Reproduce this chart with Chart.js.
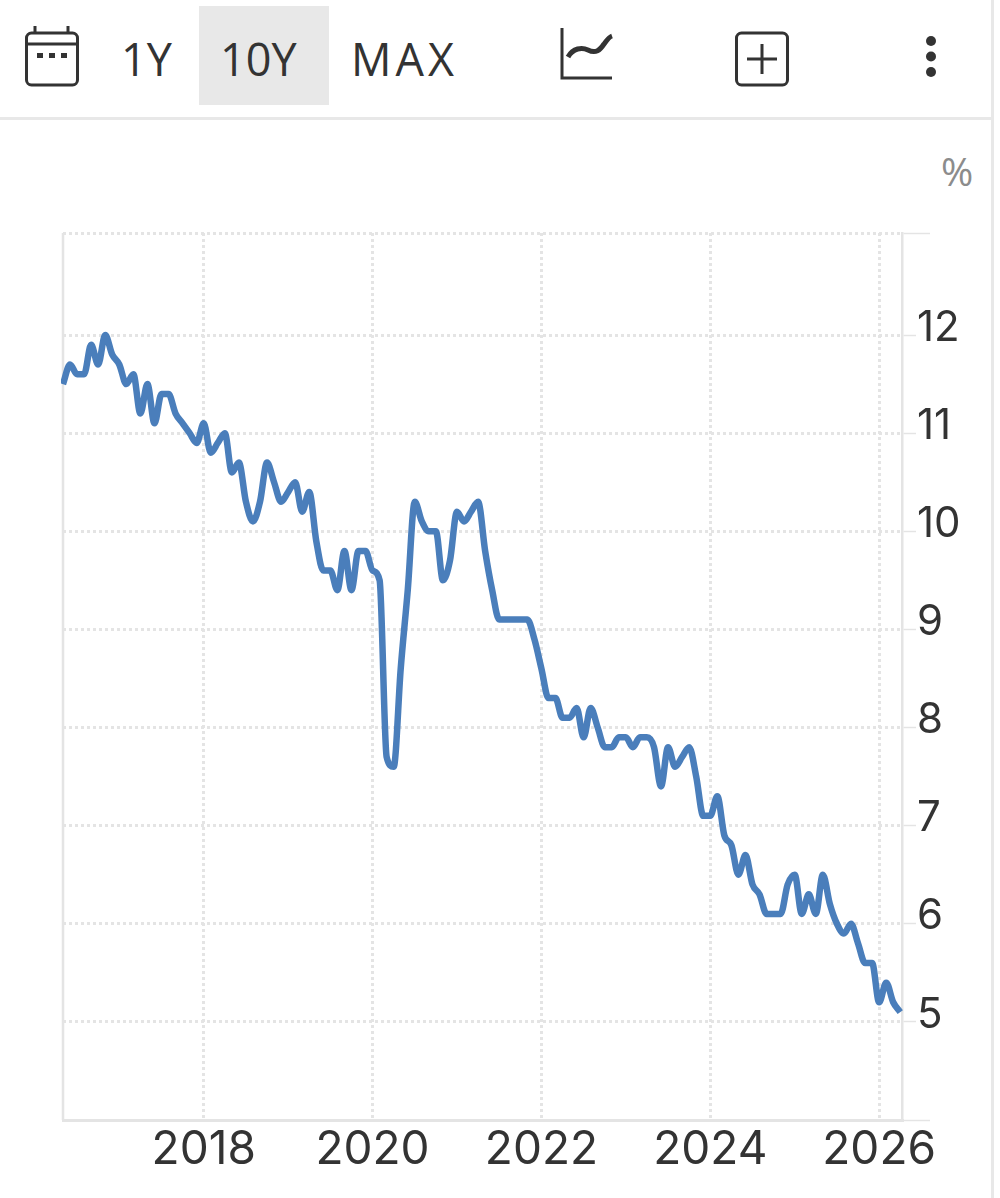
<!DOCTYPE html>
<html>
<head>
<meta charset="utf-8">
<style>
html,body{margin:0;padding:0;background:#fff;width:1000px;height:1198px;overflow:hidden}
#wrap{position:relative;width:1000px;height:1198px}
canvas{position:absolute;left:0;top:0}
.t{position:absolute;font-family:"Open Sans",sans-serif;font-weight:400;font-size:45px;color:#333;line-height:50px;top:34px;white-space:nowrap}
#sel{position:absolute;left:199px;top:6px;width:130px;height:99px;background:#e8e8e8}
#hr{position:absolute;left:0;top:117px;width:991px;height:3px;background:#e8e8e8}
#vr{position:absolute;left:991px;top:0;width:3px;height:1198px;background:#e8e8e8}
#pct{position:absolute;left:941px;top:148px;font-family:"Open Sans",sans-serif;font-weight:400;font-size:39px;line-height:46px;color:#8c8c8c}
svg{position:absolute;left:0;top:0}
</style>
</head>
<body>
<div id="wrap">
<div id="sel"></div>
<div class="t" style="left:121px">1Y</div>
<div class="t" style="left:220px">10Y</div>
<div class="t" style="left:351px;letter-spacing:4px">MAX</div>
<div id="hr"></div><div id="vr"></div>
<div id="pct">%</div>
<canvas id="c" width="1000" height="1198"></canvas>
<svg width="1000" height="120" fill="none" stroke="#333">
  <rect x="26.5" y="33" width="51" height="52" rx="5" stroke-width="3"/>
  <path d="M26 44H78M35 26V33M68 26V33" stroke-width="3"/>
  <path d="M37 55.500h6M49 55.500h6M61 55.500h6" stroke-width="5"/>
  <path d="M562 28V78H612" stroke-width="3"/>
  <path d="M568 57C573 48 582 47 588 50C596 54 600 50 604 44C607 40 609 37 612 36" stroke-width="5"/>
  <rect x="736.500" y="33" width="51" height="52" rx="5" stroke-width="3"/>
  <path d="M747 59H777M762 44V74" stroke-width="3"/>
  <g fill="#333" stroke="none"><circle cx="931" cy="41" r="5"/><circle cx="931" cy="56.500" r="5"/><circle cx="931" cy="72" r="5"/></g>
</svg>
</div>
<script src="https://cdn.jsdelivr.net/npm/chart.js@4"></script>
<script>
// Monthly observations, starting May 2016
const startYear = 2016, startMonth = 5;
const values = [
11.5,11.7,11.6,11.6,11.9,11.7,12.0,11.8,11.7,11.5,11.6,11.2,
11.5,11.1,11.4,11.4,11.2,11.1,11.0,10.9,11.1,10.8,10.9,11.0,
10.6,10.7,10.3,10.1,10.3,10.7,10.5,10.3,10.4,10.5,10.2,10.4,
9.9,9.6,9.6,9.4,9.8,9.4,9.8,9.8,9.6,9.5,7.7,7.6,
8.6,9.4,10.3,10.1,10.0,10.0,9.5,9.7,10.2,10.1,10.2,10.3,
9.8,9.4,9.1,9.1,9.1,9.1,9.1,8.9,8.6,8.3,8.3,8.1,
8.1,8.2,7.9,8.2,8.0,7.8,7.8,7.9,7.9,7.8,7.9,7.9,
7.8,7.4,7.8,7.6,7.7,7.8,7.5,7.1,7.1,7.3,6.9,6.8,
6.5,6.7,6.4,6.3,6.1,6.1,6.1,6.4,6.5,6.1,6.3,6.1,
6.5,6.2,6.0,5.9,6.0,5.8,5.6,5.6,5.2,5.4,5.2,5.1
];
const xTickYears = [2018,2020,2022,2024,2026];
const yMin = 4, yMax = 13.04;
const yLabelled = [5,6,7,8,9,10,11,12];

const monthPos = y => (y - startYear) * 12 + (1 - startMonth);
const points = values.map((v,i)=>({x:i,y:v}));
const grey = '#e4e4e4';

new Chart(document.getElementById('c'),{
  type:'line',
  data:{datasets:[{data:points,borderColor:'#4a7ebb',borderWidth:6.5,pointRadius:0,
    cubicInterpolationMode:'monotone',fill:false,clip:{left:2,right:false,top:false,bottom:false},borderCapStyle:'butt',borderJoinStyle:'round'}]},
  options:{
    responsive:false,animation:false,devicePixelRatio:1,
    layout:{padding:{left:63,top:233,right:0,bottom:0}},
    plugins:{legend:{display:false},tooltip:{enabled:false}},
    scales:{
      x:{type:'linear',min:0,max:119.25,
        afterBuildTicks(s){s.ticks=xTickYears.map(y=>({value:monthPos(y)}));},
        afterFit(s){s.height=78;},
        ticks:{autoSkip:false,maxRotation:0,padding:3,color:'#333',font:{family:'Inter',size:46,weight:'400'},
          callback(v){return String(startYear+Math.floor((v+startMonth-1)/12));}},
        border:{display:true,color:grey,width:3,dash:[3,3]},
        grid:{color:grey,lineWidth:3,drawTicks:false,tickLength:0}
      },
      y:{type:'linear',position:'right',min:yMin,max:yMax,
        afterBuildTicks(s){s.ticks=[yMin,...yLabelled,yMax].map(v=>({value:v}));},
        afterFit(s){s.width=98;},
        ticks:{padding:-13,color:'#333',font:{family:'Inter',size:42,weight:'400'},labelOffset:-7,
          showLabelBackdrop:true,
          backdropColor(c){return yLabelled.includes(c.tick.value)?'#fff':'rgba(0,0,0,0)';},
          backdropPadding:{top:0,bottom:0,left:1,right:0},
          callback(v){return yLabelled.includes(v)?String(v):'';}},
        border:{display:true,color:grey,width:2.5,dash:[3,3]},
        grid:{color:grey,lineWidth:3,tickLength:28,tickColor:grey,tickWidth:1.5,tickBorderDash:[]}
      }
    }
  },
  plugins:[{
    id:'frame',
    beforeDatasetsDraw(ch){
      const a=ch.chartArea,c=ch.ctx;
      c.save();c.strokeStyle=grey;c.lineWidth=2.5;
      c.beginPath();c.moveTo(a.left,a.top);c.lineTo(a.left,a.bottom);c.stroke();c.restore();
    }
  }]
});
</script>
</body>
</html>
